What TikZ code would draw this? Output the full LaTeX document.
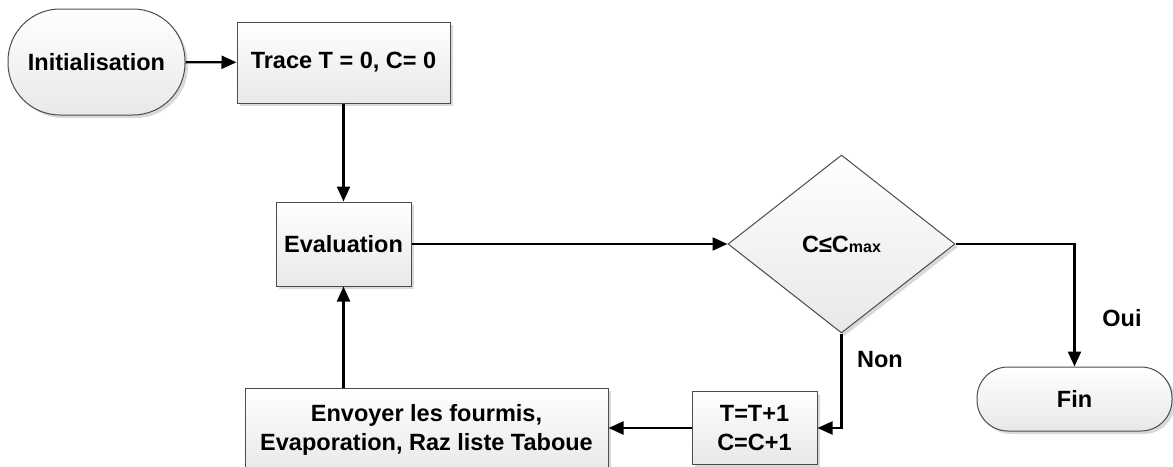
\documentclass[tikz,border=0pt]{standalone}
\usepackage{fontspec}
\setmainfont{Liberation Sans}
\usetikzlibrary{shapes.geometric,arrows.meta,shadows}

\tikzset{
  chartbox/.style={draw=black!70, line width=1pt, top color=white, bottom color=black!9,
    drop shadow={shadow xshift=3pt, shadow yshift=-3pt, opacity=0.25, fill=black!60},
    align=center, inner sep=0pt, font=\bfseries\fontsize{23.5}{29}\selectfont},
  procbox/.style={chartbox, rectangle},
  termbox/.style={chartbox, rectangle},
  decbox/.style={chartbox, diamond},
  flow/.style={line width=2.3pt, -{Triangle[length=15pt,width=13pt]}},
  lbl/.style={font=\bfseries\fontsize{23.5}{29}\selectfont, inner sep=0pt}
}

\begin{document}
\begin{tikzpicture}[x=1pt, y=-1pt]
  \useasboundingbox (0,0) rectangle (1173,466);

  % terminals
  \node[termbox, minimum width=177pt, minimum height=106pt, rounded corners=52pt]
    (init) at (96.5,62) {Initialisation};
  \node[termbox, minimum width=195pt, minimum height=64pt, rounded corners=31pt]
    (fin) at (1074.5,399) {Fin};

  % process steps
  \node[procbox, minimum width=213pt, minimum height=81pt] (trace) at (343.5,62.5) {Trace T = 0, C= 0};
  \node[procbox, minimum width=135pt, minimum height=84pt] (eval) at (343.5,244) {Evaluation};
  \node[procbox, minimum width=125pt, minimum height=73pt] (incr) at (754.5,428) {T=T+1\\C=C+1};
  \node[procbox, minimum width=363pt, minimum height=84pt] (send) at (426.5,430)
    {Envoyer les fourmis,\\Evaporation, Raz liste Taboue};

  % decision
  \node[decbox, minimum width=227pt, minimum height=178pt] (test) at (841.5,244)
    {C≤C{\fontsize{16}{16}\selectfont max}};

  % connectors
  \draw[flow] (init) -- (trace);
  \draw[flow] (trace.south) -- (eval.north);
  \draw[flow] (eval) -- (test);
  \draw[flow] (test.east) -| (fin.north);
  \draw[flow] (test.south) |- (incr.east);
  \draw[flow] (incr) -- (send.east |- incr.west);
  \draw[flow] (eval.south |- send.north) -- (eval.south);

  % branch labels
  \node[lbl] (oui) at (1122,318) {Oui};
  \node[lbl] (non) at (880,360) {Non};
\end{tikzpicture}
\end{document}
